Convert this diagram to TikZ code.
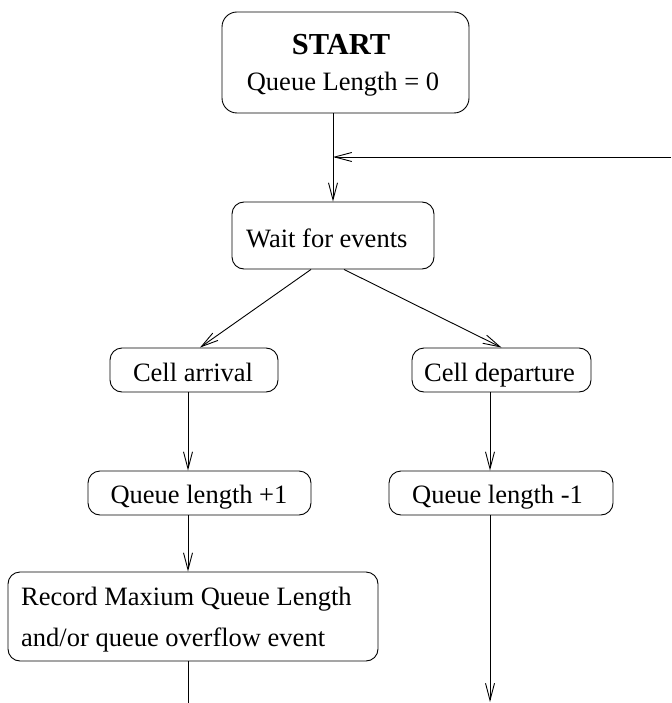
\documentclass[tikz,border=0pt]{standalone}
\usepackage{fontspec}
\setmainfont{Liberation Serif}
\usetikzlibrary{arrows.meta,calc}
\begin{document}
\begin{tikzpicture}[x=1pt,y=-1pt,
  box/.style={draw, rounded corners=12pt, line width=0.9pt, inner sep=0pt},
  txt/.style={inner sep=0pt, font=\fontsize{26.5}{32}\selectfont},
  arr/.style={-{Straight Barb[length=17pt,width=9pt,line width=0.9pt]}, line width=0.9pt},
  ln/.style={line width=0.9pt}]
\useasboundingbox (0,0) rectangle (671,703);
% boxes
\node[box, rounded corners=15pt, minimum width=247, minimum height=101] (start) at (345.5,62.5) {};
\node[box, minimum width=202, minimum height=67] (wait) at (333,235.5) {};
\node[box, minimum width=168, minimum height=44] (arrival) at (194,370) {};
\node[box, minimum width=179, minimum height=44] (departure) at (501.5,370) {};
\node[box, minimum width=223, minimum height=44] (q1) at (199.5,493) {};
\node[box, minimum width=224, minimum height=44] (qm1) at (501,493) {};
\node[box, minimum width=370, minimum height=89] (rec) at (193,616.5) {};
% texts
\node[txt, anchor=base, font=\fontsize{30.5}{36}\selectfont\bfseries] (startT) at (341,55) {START};
\node[txt, anchor=base] (startQ) at (343,91) {Queue Length = 0};
\node[txt, anchor=base west] (waitT) at (246,247) {Wait for events};
\node[txt, anchor=base] (arrivalT) at (193,381) {Cell arrival};
\node[txt, anchor=base] (departureT) at (499.5,381) {Cell departure};
\node[txt, anchor=base] (q1T) at (199,503) {Queue length +1};
\node[txt, anchor=base] (qm1T) at (497.5,503) {Queue length -1};
\node[txt, anchor=base west] (recA) at (21,605) {Record Maxium Queue Length};
\node[txt, anchor=base west] (recB) at (21,646) {and/or queue overflow event};
% helper coordinates
\coordinate (colL) at (188,0);
\coordinate (colR) at (490,0);
\coordinate (fb) at (671,157);
\coordinate (endL) at (188,703);
\coordinate (endR) at (490,702);
% connectors
\draw[arr] (wait.north |- start.south) -- (wait.north);
\draw[arr] (fb) -- (fb -| wait.north);
\draw[arr] ([xshift=-22pt]wait.south) -- ([xshift=6pt]arrival.north);
\draw[arr] ([xshift=11pt]wait.south) -- (departure.north);
\draw[arr] (arrival.south -| colL) -- (q1.north -| colL);
\draw[arr] (departure.south -| colR) -- (qm1.north -| colR);
\draw[arr] (q1.south -| colL) -- (rec.north -| colL);
\draw[ln] (rec.south -| colL) -- (endL);
\draw[arr] (qm1.south -| colR) -- (endR);
\end{tikzpicture}
\end{document}
